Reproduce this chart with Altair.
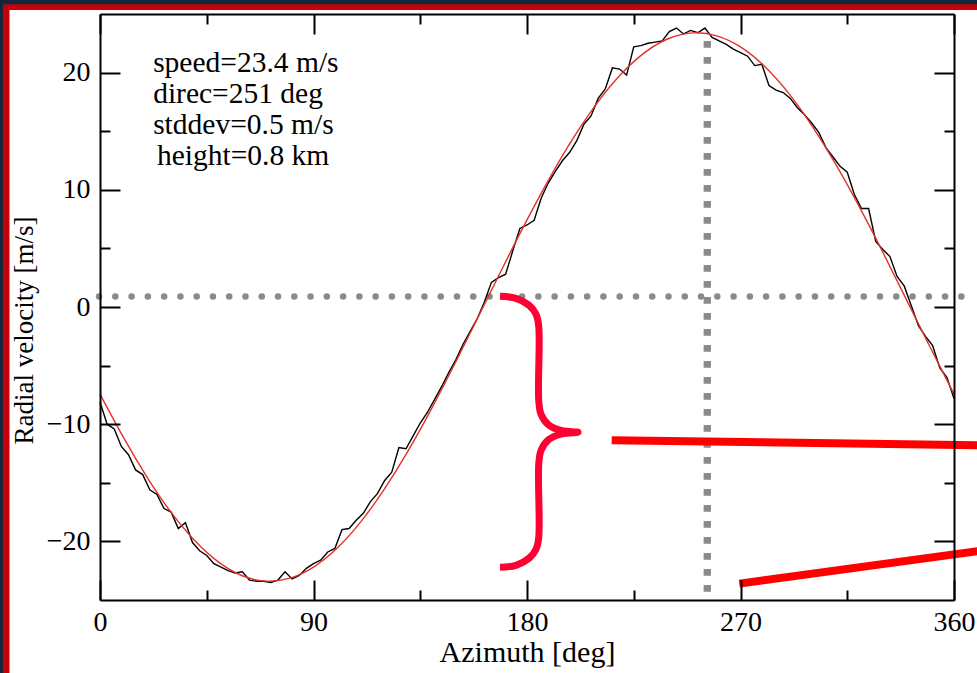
import altair as alt
import pandas as pd

FONT = "Liberation Serif"

# ---------------- data ----------------
obs_az = list(range(0, 361, 3))
obs_v = [
    -8.1, -10.0, -10.4, -11.9, -12.6, -13.9, -14.3, -15.6, -16.0, -17.2,
    -17.5, -18.9, -18.4, -20.1, -20.8, -21.2, -21.9, -22.2, -22.5, -22.7,
    -22.6, -23.3, -23.4, -23.4, -23.5, -23.3, -22.6, -23.2, -22.9, -22.3,
    -21.9, -21.6, -20.9, -20.6, -19.0, -18.9, -18.2, -17.6, -16.6, -15.9,
    -14.8, -14.1, -12.0, -12.1, -11.0, -9.9, -9.0, -7.9, -6.8, -5.6,
    -4.5, -3.2, -2.1, -1.0, 0.4, 2.1, 2.5, 2.8, 4.8, 6.7,
    7.0, 7.4, 9.3, 10.6, 11.6, 12.5, 13.2, 14.2, 15.6, 16.3,
    17.8, 18.6, 20.4, 20.3, 19.8, 22.2, 22.3, 22.5, 22.6, 22.7,
    23.5, 23.8, 23.3, 23.6, 23.4, 23.8, 23.0, 22.7, 22.4, 22.0,
    21.7, 21.4, 20.6, 20.7, 18.9, 18.5, 18.3, 17.8, 17.0, 16.4,
    15.7, 14.9, 13.6, 12.8, 12.0, 11.5, 9.6, 8.4, 8.4, 5.6,
    4.9, 4.3, 2.6, 1.8, 0.1, -1.6, -2.5, -3.3, -5.2, -6.0,
    -7.8,
]

fit_az = list(range(0, 361, 10))
fit_v = [
    -7.43, -11.17, -14.57, -17.53, -19.95, -21.77, -22.93, -23.39, -23.14, -22.19,
    -20.56, -18.31, -15.50, -12.23, -8.58, -4.67, -0.61, 3.46, 7.43, 11.17,
    14.57, 17.53, 19.95, 21.77, 22.93, 23.39, 23.14, 22.19, 20.56, 18.31,
    15.50, 12.23, 8.58, 4.67, 0.61, -3.46, -7.43,
]

x_major = [0, 90, 180, 270, 360]
x_minor = [45, 135, 225, 315]
y_major = [-20, -10, 0, 10, 20]
y_minor = [-15, -5, 5, 15]

stats_text = ["speed=23.4 m/s", "direc=251 deg", "stddev=0.5 m/s", "height=0.8 km"]
stats_az = [22.4, 22.4, 22.4, 24.0]
stats_v = [20.03, 17.38, 14.74, 12.09]

zero_az = [-0.4, 363.5]
zero_v = 0.9
direc_az = 256
direc_v = [22.7, -25.0]

brace_az = [168.63, 175.38, 180.86, 183.81, 184.95, 184.95, 185.92, 189.29, 194.77, 201.52,
            194.77, 189.29, 185.92, 184.95, 184.95, 183.81, 180.86, 175.38, 168.63]
brace_v = [0.91, 0.74, 0.15, -0.62, -1.65, -7.96, -9.16, -10.09, -10.56, -10.69,
           -10.82, -11.29, -12.23, -13.42, -19.65, -20.67, -21.44, -22.04, -22.21]

pointer_az = [215.7, 269.5]
pointer_az2 = [380.0, 380.0]
pointer_v = [-11.37, -23.6]
pointer_v2 = [-11.83, -20.55]

frame_az = [-40.9, -38.15]
frame_v = [25.83, 25.34]
frame_far_az = 420.0
frame_far_v = -40.0
frame_colors = ["#c4000c", "#ffffff"]

# ---------------- tables ----------------
obs = pd.DataFrame({"az": obs_az, "v": obs_v})
fit = pd.DataFrame({"az": fit_az, "v": fit_v})
stats = pd.DataFrame({"az": stats_az, "v": stats_v, "t": stats_text})
hline = pd.DataFrame({"az": [zero_az[0]], "az2": [zero_az[1]], "v": [zero_v]})
vline = pd.DataFrame({"az": [direc_az], "v": [direc_v[0]], "v2": [direc_v[1]]})
brace = pd.DataFrame({"az": brace_az, "v": brace_v, "i": list(range(len(brace_az)))})
pointers = pd.DataFrame({"az": pointer_az, "az2": pointer_az2, "v": pointer_v, "v2": pointer_v2})
frame = pd.DataFrame({"az": frame_az, "az2": [frame_far_az] * 2, "v": frame_v,
                      "v2": [frame_far_v] * 2, "c": frame_colors, "k": [0, 1]})

W, H = 854, 586
xs = alt.Scale(domain=[0, 360], nice=False, zero=False)
ys = alt.Scale(domain=[-25, 25], nice=False, zero=False)


def tick_axis(orient, values, size, offset, domain=False):
    return alt.Axis(orient=orient, values=values, tickSize=size, offset=offset,
                    labels=False, title=None, grid=False, domain=domain,
                    domainColor="black", domainWidth=2, tickColor="black",
                    tickWidth=2, zindex=1)


ax_bottom = alt.Axis(orient="bottom", values=x_major, ticks=False, tickSize=0,
                     labelPadding=8, labelFont=FONT, labelFontSize=28, labelColor="black",
                     labelFlush=False, labelOverlap=False, title="Azimuth [deg]",
                     titleFont=FONT, titleFontSize=30, titleFontWeight="normal",
                     titleColor="black", titlePadding=1, grid=False, domain=True,
                     domainColor="black", domainWidth=2, zindex=1)
ax_left = alt.Axis(orient="left", values=y_major, ticks=False, tickSize=0,
                   labelPadding=10, labelFont=FONT, labelFontSize=28, labelColor="black",
                   labelFlush=False, labelOverlap=False, title="Radial velocity [m/s]",
                   titleFont=FONT, titleFontSize=27, titleFontWeight="normal",
                   titleColor="black", titlePadding=8, titleY=316, grid=False, domain=True,
                   domainColor="black", domainWidth=2, zindex=1)

base_x = lambda ax: alt.X("az:Q", scale=xs, axis=ax)
base_y = lambda ax: alt.Y("v:Q", scale=ys, axis=ax)

frame_layer = alt.Chart(frame).mark_rect().encode(
    x=base_x(None), x2="az2:Q", y=base_y(None), y2="v2:Q",
    color=alt.Color("c:N", scale=None), order="k:O")

hline_layer = alt.Chart(hline).mark_rule(
    color="#8a8a8a", strokeWidth=6.5, strokeDash=[0.01, 16.26], strokeCap="round"
).encode(x=base_x(tick_axis("top", x_minor, 10, -H)), x2="az2:Q",
         y=base_y(tick_axis("right", y_minor, 10, -W)))

vline_layer = alt.Chart(vline).mark_rule(
    color="#8a8a8a", strokeWidth=7.3, strokeDash=[6.7, 9.3], strokeCap="butt"
).encode(x=base_x(tick_axis("bottom", x_major, 20, -H, domain=True)),
         y=base_y(tick_axis("left", y_major, 20, -W, domain=True)), y2="v2:Q")

obs_layer = alt.Chart(obs).mark_line(color="black", strokeWidth=1.4).encode(
    x=base_x(ax_bottom), y=base_y(ax_left))

fit_layer = alt.Chart(fit).mark_line(color="#e3302c", strokeWidth=1.4, interpolate="natural").encode(
    x=base_x(tick_axis("top", x_major, 20, -H)),
    y=base_y(tick_axis("right", y_major, 20, -W)))

brace_layer = alt.Chart(brace).mark_line(
    color="#ff0033", strokeWidth=7, interpolate="catmull-rom", strokeCap="butt", strokeJoin="round"
).encode(x=base_x(tick_axis("bottom", x_minor, 10, -H)),
         y=base_y(tick_axis("left", y_minor, 10, -W)), order="i:O")

pointer_layer = alt.Chart(pointers).mark_rule(color="#ff0000", strokeWidth=8, strokeCap="butt").encode(
    x=base_x(None), x2="az2:Q", y=base_y(None), y2="v2:Q")

text_layer = alt.Chart(stats).mark_text(
    align="left", baseline="alphabetic", font=FONT, fontSize=29.5, color="black"
).encode(x=base_x(None), y=base_y(None), text="t:N")

chart = alt.layer(
    frame_layer, hline_layer, vline_layer, obs_layer, fit_layer,
    brace_layer, pointer_layer, text_layer
).resolve_axis(x="independent", y="independent").properties(
    width=W, height=H,
    padding={"left": 100, "top": 14, "right": 23, "bottom": 73},
    autosize=alt.AutoSizeParams(type="none"),
    background="#12283a",
).configure_view(strokeWidth=0)

chart.save("out.html", embed_options={"renderer": "svg", "actions": False})
